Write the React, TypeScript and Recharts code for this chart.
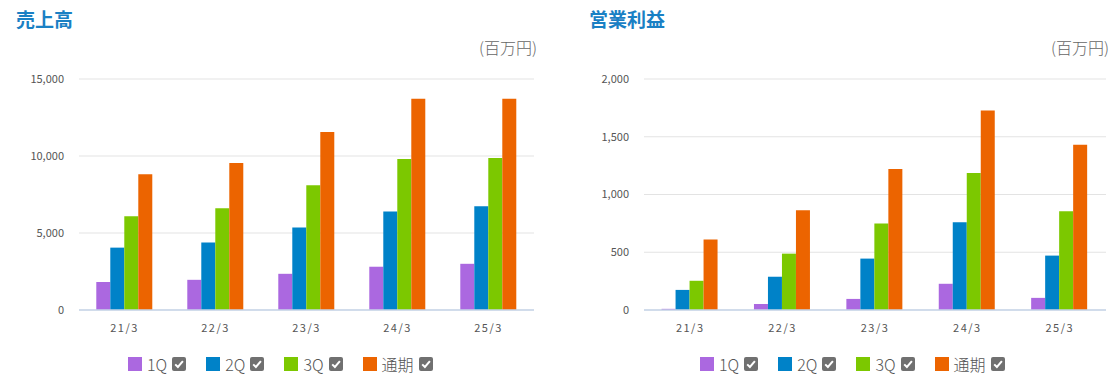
import { BarChart, Bar, XAxis, YAxis, CartesianGrid } from 'recharts';

const categories = ['21/3', '22/3', '23/3', '24/3', '25/3'];
const seriesNames = ['1Q', '2Q', '3Q', '通期'];
const seriesColors = ['#ab68e0', '#0082c8', '#7cc800', '#ec6400'];

// 売上高 (百万円)
const salesQ1 = [1820, 1960, 2350, 2810, 3000];
const salesQ2 = [4050, 4380, 5350, 6400, 6730];
const salesQ3 = [6080, 6600, 8100, 9800, 9870];
const salesFY = [8820, 9540, 11560, 13720, 13720];
const salesTicks = [0, 5000, 10000, 15000];

// 営業利益 (百万円)
const opQ1 = [10, 52, 96, 227, 105];
const opQ2 = [174, 288, 445, 759, 471];
const opQ3 = [253, 488, 750, 1186, 855];
const opFY = [610, 863, 1221, 1727, 1430];
const opTicks = [0, 500, 1000, 1500, 2000];

const FONT = '"Noto Sans CJK JP", "Noto Sans", sans-serif';

function toRows(series: number[][]) {
  return categories.map((c, i) => ({
    name: c,
    s0: series[0][i],
    s1: series[1][i],
    s2: series[2][i],
    s3: series[3][i],
  }));
}

function CheckBox() {
  return (
    <svg width={14} height={14} style={{ display: 'block' }}>
      <rect x={0} y={0} width={14} height={14} rx={2} fill="#707070" />
      <path d="M3.2 7.4 L5.9 10 L10.9 4.2" stroke="#fff" strokeWidth={2} fill="none" />
    </svg>
  );
}

function LegendRow({ left }: { left: number }) {
  return (
    <div style={{ position: 'absolute', left, top: 356, display: 'flex', alignItems: 'center', fontFamily: FONT }}>
      {seriesNames.map((n, i) => (
        <div key={n} style={{ display: 'flex', alignItems: 'center', marginRight: i < 3 ? 20 : 0 }}>
          <div style={{ width: 14, height: 14, background: seriesColors[i] }} />
          <span style={{ fontSize: 16, fontWeight: 300, color: '#555', margin: '0 5px', lineHeight: '16px' }}>{n}</span>
          <CheckBox />
        </div>
      ))}
    </div>
  );
}

interface PanelProps {
  title: string;
  left: number;
  width: number;
  axisWidth: number;
  rightPad: number;
  series: number[][];
  ticks: number[];
  titleLeft: number;
  legendLeft: number;
}

function Panel({ title, left, width, axisWidth, rightPad, series, ticks, titleLeft, legendLeft }: PanelProps) {
  const data = toRows(series);
  return (
    <>
      <div style={{ position: 'absolute', left: titleLeft, top: 6, fontSize: 19, fontWeight: 'bold', color: '#1a80c4', fontFamily: FONT, lineHeight: '26px' }}>
        {title}
      </div>
      <div style={{ position: 'absolute', left, width: width - rightPad + 3, top: 36, textAlign: 'right', fontSize: 16, fontWeight: 300, color: '#666', fontFamily: FONT, lineHeight: '22px' }}>
        (百万円)
      </div>
      <div style={{ position: 'absolute', left, top: 60 }}>
        <BarChart width={width} height={280} data={data} barCategoryGap="19%" barGap={0}
          margin={{ top: 19, right: rightPad, left: 0, bottom: 0 }}>
          <CartesianGrid vertical={false} stroke="#e3e3e3" />
          <XAxis dataKey="name" tickLine={false} axisLine={{ stroke: '#c6d4e9', strokeWidth: 1.5 }} tickMargin={8}
            tick={{ fontSize: 11, fill: '#555', fontFamily: FONT, letterSpacing: 1.5 }} height={30} />
          <YAxis domain={[0, ticks[ticks.length - 1]]} ticks={ticks} width={axisWidth} axisLine={false} tickLine={false}
            tickMargin={9} tickFormatter={(v: number) => v.toLocaleString('en-US')}
            tick={{ fontSize: 11, fill: '#555', fontFamily: FONT }} />
          {seriesNames.map((n, i) => (
            <Bar key={n} dataKey={`s${i}`} name={n} fill={seriesColors[i]} isAnimationActive={false} />
          ))}
        </BarChart>
      </div>
      <LegendRow left={legendLeft} />
    </>
  );
}

export default function App() {
  return (
    <div style={{ position: 'absolute', left: 0, top: 0, width: 1118, height: 376, background: '#fff' }}>
      <Panel title="売上高" left={0} width={560} axisWidth={79} rightPad={26}
        series={[salesQ1, salesQ2, salesQ3, salesFY]} ticks={salesTicks} titleLeft={16} legendLeft={128} />
      <Panel title="営業利益" left={560} width={558} axisWidth={84} rightPad={12}
        series={[opQ1, opQ2, opQ3, opFY]} ticks={opTicks} titleLeft={589} legendLeft={700} />
    </div>
  );
}
